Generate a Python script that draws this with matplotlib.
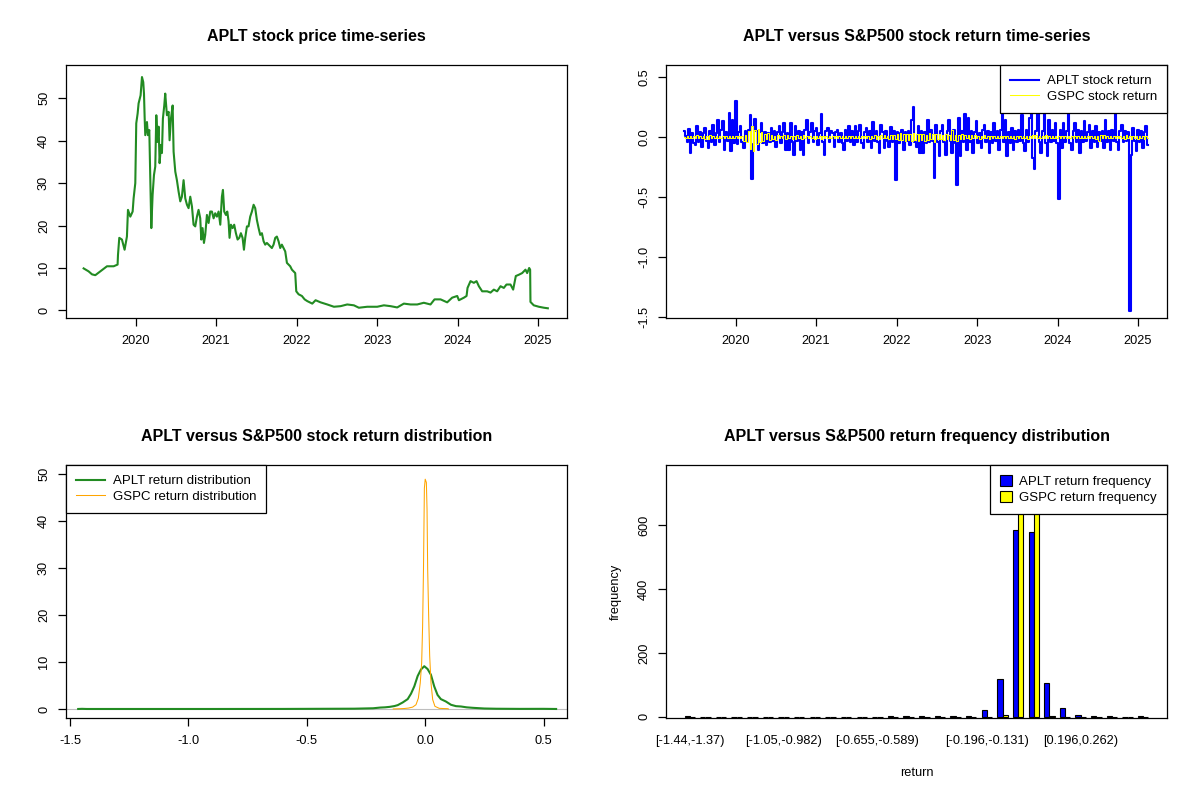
import matplotlib.pyplot as plt
import numpy as np

plt.rcParams['font.family'] = ['Liberation Sans', 'DejaVu Sans']
plt.rcParams['axes.unicode_minus'] = False

# APLT closing price (decimal year, USD)
price_year = [
    2019.354, 2019.416, 2019.458, 2019.499, 2019.561, 2019.644, 2019.727, 2019.776, 2019.781, 2019.797,
    2019.830, 2019.863, 2019.892, 2019.905, 2019.934, 2019.963, 2019.975, 2019.996, 2020.008, 2020.025,
    2020.037, 2020.062, 2020.079, 2020.095, 2020.104, 2020.112, 2020.120, 2020.141, 2020.153, 2020.170,
    2020.186, 2020.195, 2020.211, 2020.228, 2020.244, 2020.257, 2020.273, 2020.286, 2020.298, 2020.315,
    2020.327, 2020.339, 2020.356, 2020.368, 2020.389, 2020.410, 2020.422, 2020.439, 2020.460, 2020.472,
    2020.493, 2020.513, 2020.534, 2020.555, 2020.575, 2020.596, 2020.617, 2020.638, 2020.658, 2020.679,
    2020.700, 2020.720, 2020.741, 2020.762, 2020.782, 2020.803, 2020.816, 2020.832, 2020.849, 2020.865,
    2020.886, 2020.907, 2020.927, 2020.948, 2020.969, 2020.989, 2021.010, 2021.031, 2021.052, 2021.072,
    2021.085, 2021.101, 2021.122, 2021.139, 2021.155, 2021.167, 2021.184, 2021.205, 2021.225, 2021.246,
    2021.267, 2021.288, 2021.308, 2021.329, 2021.346, 2021.362, 2021.383, 2021.403, 2021.424, 2021.445,
    2021.466, 2021.486, 2021.507, 2021.528, 2021.548, 2021.569, 2021.590, 2021.610, 2021.631, 2021.652,
    2021.673, 2021.693, 2021.714, 2021.735, 2021.755, 2021.776, 2021.797, 2021.817, 2021.838, 2021.859,
    2021.880, 2021.900, 2021.921, 2021.942, 2021.962, 2021.983, 2021.996, 2022.025, 2022.066, 2022.100,
    2022.132, 2022.195, 2022.236, 2022.298, 2022.381, 2022.464, 2022.547, 2022.629, 2022.712, 2022.774,
    2022.878, 2023.002, 2023.085, 2023.168, 2023.250, 2023.333, 2023.416, 2023.499, 2023.581, 2023.664,
    2023.714, 2023.789, 2023.871, 2023.933, 2023.996, 2024.017, 2024.079, 2024.112, 2024.124, 2024.161,
    2024.203, 2024.236, 2024.265, 2024.306, 2024.368, 2024.410, 2024.451, 2024.492, 2024.534, 2024.575,
    2024.608, 2024.658, 2024.691, 2024.724, 2024.761, 2024.803, 2024.844, 2024.865, 2024.890, 2024.902,
    2024.906, 2024.947, 2025.010, 2025.073, 2025.122,
]
price_value = [
    9.9, 9.2, 8.5, 8.3, 9.2, 10.4, 10.4, 10.8, 13.1, 17.1,
    16.7, 14.3, 17.4, 23.7, 22.1, 23.3, 26.4, 30.0, 44.1, 46.4,
    48.8, 50.7, 55.0, 53.8, 51.1, 45.6, 41.3, 44.4, 41.3, 42.5,
    27.2, 19.4, 27.2, 31.9, 33.9, 46.0, 39.7, 43.3, 34.7, 39.0,
    37.1, 45.2, 48.3, 51.1, 46.0, 46.8, 40.1, 45.2, 48.3, 37.4,
    32.7, 30.7, 28.0, 25.7, 26.8, 30.7, 26.4, 24.9, 24.1, 26.8,
    24.5, 20.2, 19.8, 22.1, 23.7, 21.7, 16.7, 19.4, 15.9, 17.8,
    22.5, 20.6, 23.3, 23.3, 21.7, 22.9, 22.1, 23.3, 20.2, 26.8,
    28.4, 23.3, 22.5, 23.3, 21.0, 17.1, 20.2, 19.4, 20.2, 18.2,
    16.7, 17.1, 18.2, 17.1, 14.3, 17.1, 19.8, 19.8, 22.1, 23.3,
    24.9, 24.1, 21.3, 19.4, 17.8, 18.2, 16.3, 15.5, 15.9, 15.5,
    15.1, 14.7, 15.5, 17.1, 17.4, 16.3, 14.7, 15.5, 14.7, 13.9,
    11.2, 10.8, 10.4, 9.6, 9.2, 8.8, 4.5, 3.8, 3.4, 2.6,
    2.2, 1.6, 2.4, 1.9, 1.4, 0.86, 1.0, 1.4, 1.2, 0.63,
    0.86, 0.86, 1.2, 1.0, 0.7, 1.6, 1.4, 1.4, 1.8, 1.4,
    2.6, 2.6, 1.9, 3.0, 3.4, 2.4, 3.0, 3.4, 5.3, 6.9,
    6.5, 6.9, 5.7, 4.5, 4.5, 4.2, 4.9, 4.5, 5.7, 5.3,
    6.1, 6.1, 4.9, 8.1, 8.4, 8.8, 9.6, 8.8, 10.0, 9.6,
    2.0, 1.2, 0.86, 0.63, 0.5,
]

# log returns, roughly one value per trading week between these dates
ret_start, ret_end = 2019.36, 2025.12
aplt_ret = [
    0.05, 0.01, -0.04, 0.07, -0.13, 0.03, -0.05, -0.065, 0.09, -0.04,
    0.04, -0.08, 0.03, 0.075, -0.03, -0.09, 0.05, -0.04, 0.10, -0.065,
    0.03, 0.14, -0.04, 0.06, 0.13, -0.105, 0.04, -0.03, 0.20, -0.114,
    0.14, -0.05, 0.30, -0.06, 0.04, 0.09, -0.04, -0.09, 0.05, -0.03,
    0.06, 0.18, -0.35, -0.06, 0.15, 0.05, -0.105, 0.04, 0.12, -0.05,
    0.04, -0.065, 0.03, -0.04, 0.075, -0.03, 0.05, -0.085, 0.04, 0.09,
    -0.05, 0.04, 0.12, -0.105, 0.03, -0.105, 0.12, -0.04, -0.15, 0.09,
    -0.03, 0.05, -0.105, 0.04, -0.15, 0.06, 0.14, -0.05, 0.04, 0.12,
    -0.04, 0.05, 0.075, -0.065, 0.03, 0.19, -0.04, -0.15, 0.05, 0.075,
    -0.04, 0.05, 0.03, -0.08, 0.04, 0.06, -0.04, 0.03, -0.05, -0.105,
    0.06, -0.03, 0.09, -0.04, 0.05, -0.065, 0.09, -0.04, 0.05, 0.10,
    -0.05, -0.09, 0.04, 0.075, -0.04, 0.05, -0.09, 0.125, -0.03, 0.05,
    -0.04, -0.135, 0.10, 0.04, -0.09, 0.05, -0.03, -0.085, 0.08, -0.04,
    0.05, -0.36, 0.04, -0.05, 0.03, 0.06, -0.105, 0.04, -0.03, 0.05,
    -0.065, 0.145, 0.25, -0.04, -0.08, 0.09, -0.135, 0.05, -0.135, 0.04,
    -0.05, 0.14, -0.04, 0.06, -0.03, -0.34, 0.10, -0.04, -0.16, 0.05,
    0.10, -0.04, -0.15, 0.05, 0.14, -0.03, -0.135, 0.06, -0.05, -0.40,
    0.16, -0.16, 0.05, -0.04, 0.19, -0.105, 0.16, -0.04, 0.05, -0.135,
    0.04, 0.13, -0.05, 0.03, -0.09, 0.06, 0.10, -0.04, 0.05, -0.135,
    0.04, -0.05, 0.12, -0.03, 0.05, -0.105, 0.06, 0.24, -0.04, 0.14,
    -0.16, 0.04, -0.05, 0.075, -0.105, 0.05, -0.04, 0.06, -0.03, 0.18,
    -0.05, -0.12, 0.06, -0.04, 0.16, 0.25, -0.175, -0.27, 0.05, 0.19,
    -0.04, -0.135, 0.05, 0.25, -0.05, -0.16, 0.14, -0.04, 0.06, -0.03,
    0.12, -0.05, -0.52, 0.06, -0.09, 0.12, -0.04, 0.05, 0.52, -0.05,
    -0.105, 0.05, 0.12, -0.04, 0.06, -0.135, 0.05, -0.04, 0.13, -0.03,
    0.04, 0.10, -0.09, 0.05, -0.04, 0.09, -0.08, 0.04, -0.03, 0.05,
    -0.09, 0.14, -0.04, 0.05, -0.105, 0.06, -0.03, 0.25, -0.04, -0.105,
    0.05, 0.10, -0.04, 0.05, -0.03, 0.04, -1.45, -0.15, 0.075, -0.03,
    -0.12, 0.06, -0.04, 0.05, -0.09, 0.04, 0.09, -0.065,
]
gspc_ret = [
    0.004, -0.008, 0.012, -0.006, 0.01, -0.012, 0.008, -0.01, 0.014, -0.006,
    0.009, -0.011, 0.006, -0.014, 0.012, -0.018, 0.015, -0.01, 0.008, -0.006,
    0.01, -0.007, 0.009, -0.012, 0.006, -0.008, 0.011, -0.009, 0.007, -0.005,
    0.008, -0.006, 0.009, -0.01, 0.012, -0.008, 0.006, -0.035, 0.02, -0.045,
    0.05, -0.1, 0.09, -0.12, 0.06, -0.06, 0.07, -0.045, 0.04, -0.03,
    0.025, -0.02, 0.03, -0.025, 0.015, -0.018, 0.012, -0.025, 0.02, -0.01,
    0.01, -0.012, 0.015, -0.02, 0.018, -0.01, 0.008, -0.015, 0.012, -0.02,
    0.016, -0.012, 0.01, -0.02, 0.015, -0.008, 0.012, -0.01, 0.009, -0.007,
    0.012, -0.015, 0.01, -0.008, 0.011, -0.014, 0.009, -0.007, 0.01, -0.009,
    0.006, -0.008, 0.007, -0.012, 0.008, -0.006, 0.009, -0.005, 0.007, -0.008,
    0.006, -0.01, 0.008, -0.005, 0.007, -0.009, 0.006, -0.008, 0.01, -0.006,
    0.008, -0.012, 0.01, -0.007, 0.009, -0.015, 0.011, -0.009, 0.013, -0.017,
    0.012, -0.019, 0.014, -0.01, 0.016, -0.012, 0.01, -0.018, 0.02, -0.015,
    0.018, -0.02, 0.025, -0.022, 0.03, -0.028, 0.022, -0.03, 0.026, -0.025,
    0.028, -0.033, 0.03, -0.026, 0.024, -0.035, 0.028, -0.022, 0.025, -0.03,
    0.02, -0.025, 0.03, -0.02, 0.022, -0.04, 0.026, -0.018, 0.024, -0.02,
    0.018, -0.025, 0.028, -0.018, 0.02, -0.024, 0.055, -0.022, 0.018, -0.03,
    0.02, -0.015, 0.022, -0.018, 0.015, -0.012, 0.018, -0.015, 0.014, -0.012,
    0.015, -0.01, 0.012, -0.014, 0.01, -0.012, 0.016, -0.01, 0.012, -0.015,
    0.01, -0.008, 0.012, -0.01, 0.009, -0.012, 0.01, -0.008, 0.011, -0.007,
    0.009, -0.01, 0.012, -0.008, 0.01, -0.014, 0.008, -0.01, 0.012, -0.009,
    0.008, -0.012, 0.01, -0.014, 0.011, -0.009, 0.013, -0.01, 0.015, -0.012,
    0.01, -0.008, 0.012, -0.01, 0.014, -0.007, 0.009, -0.006, 0.008, -0.01,
    0.007, -0.009, 0.006, -0.008, 0.01, -0.007, 0.008, -0.006, 0.009, -0.01,
    0.006, -0.008, 0.011, -0.012, 0.007, -0.009, 0.008, -0.006, 0.01, -0.008,
    0.009, -0.01, 0.007, -0.011, 0.01, -0.016, 0.012, -0.03, 0.02, -0.012,
    0.014, -0.01, 0.009, -0.012, 0.01, -0.008, 0.012, -0.01, 0.011, -0.009,
    0.01, -0.012, 0.009, -0.015, 0.02, -0.01, 0.012, -0.014, 0.011, -0.01,
    0.01, -0.016, 0.012, -0.009, 0.011, -0.014, 0.009, -0.011,
]

# kernel density curves
aplt_dens_x = [-1.466, -1.45, -1.43, -1.2, -0.9, -0.6, -0.3, -0.22, -0.19, -0.17, -0.15, -0.13,
               -0.116, -0.095, -0.074, -0.06, -0.046, -0.032, -0.018, -0.004, 0.01, 0.024,
               0.038, 0.052, 0.066, 0.087, 0.109, 0.13, 0.151, 0.175, 0.2, 0.25, 0.3, 0.4,
               0.5, 0.553]
aplt_dens_y = [0.0, 0.03, 0.0, 0.0, 0.0, 0.01, 0.06, 0.15, 0.3, 0.35, 0.45, 0.62,
               0.82, 1.39, 2.1, 3.25, 4.82, 7.0, 8.4, 9.1, 8.5, 7.3,
               4.82, 3.0, 2.1, 1.6, 0.89, 0.6, 0.53, 0.35, 0.25, 0.1, 0.05, 0.02,
               0.03, 0.0]
gspc_dens_x = [-0.135, -0.11, -0.088, -0.07, -0.053, -0.039, -0.029, -0.021, -0.015, -0.011,
               -0.0073, -0.0035, 0.0, 0.0049, 0.0077, 0.0104, 0.0146, 0.0189, 0.0245, 0.0316,
               0.041, 0.059, 0.075, 0.094, 0.098]
gspc_dens_y = [0.01, 0.05, 0.1, 0.2, 0.4, 0.9, 2.3, 5.5, 9.8, 17.6,
               29.7, 47.0, 48.9, 48.2, 42.5, 29.7, 19.8, 11.3, 5.5, 2.0,
               0.57, 0.14, 0.1, 0.07, 0.01]

# return frequency in 30 equal bins from -1.44 to 0.523
aplt_freq = [1, 0, 0, 0, 0, 0, 0, 0, 0, 0, 0, 0, 0, 1, 2, 1, 2, 1, 2, 20,
             119, 585, 578, 107, 26, 6, 3, 2, 0, 1]
gspc_freq = [0, 0, 0, 0, 0, 0, 0, 0, 0, 0, 0, 0, 0, 0, 0, 0, 0, 0, 0, 0,
             4, 680, 760, 3, 0, 0, 0, 0, 0, 0]
bin_labels = {0: '[-1.44,-1.37)', 6: '[-1.05,-0.982)', 12: '[-0.655,-0.589)',
              19: '[-0.196,-0.131)', 25: '[0.196,0.262)'}


def r_style(ax):
    for s in ax.spines.values():
        s.set_linewidth(0.9)
        s.set_color('black')
    ax.tick_params(direction='out', length=6, width=0.9, labelsize=9.2)
    ax.tick_params(axis='x', pad=6.2)
    ax.tick_params(axis='y', labelrotation=90, pad=5.5)
    plt.setp(ax.get_yticklabels(), va='center')


title_kw = dict(fontsize=11.5, fontweight='bold', pad=17)
leg_kw = dict(frameon=True, fancybox=False, edgecolor='black', framealpha=1,
              borderaxespad=0, fontsize=9.5, handletextpad=0.6, labelspacing=0.25,
              borderpad=0.75)

fig = plt.figure(figsize=(12, 8), dpi=100)
ax1 = fig.add_axes([0.055, 0.6025, 0.4175, 0.31625])
ax2 = fig.add_axes([0.555, 0.6025, 0.4175, 0.31625])
ax3 = fig.add_axes([0.055, 0.1025, 0.4175, 0.31625])
ax4 = fig.add_axes([0.555, 0.1025, 0.4175, 0.31625])

years = [2020, 2021, 2022, 2023, 2024, 2025]

# price
ax1.plot(price_year, price_value, color='#228B22', lw=1.5)
ax1.set_xlim(2019.135, 2025.36)
ax1.set_ylim(-1.79, 57.84)
ax1.set_xticks(years)
ax1.set_yticks([0, 10, 20, 30, 40, 50])
ax1.set_title('APLT stock price time-series', **title_kw)
r_style(ax1)

# returns
t = np.linspace(ret_start, ret_end, len(aplt_ret))
ax2.plot(t, aplt_ret, color='blue', lw=1.5, drawstyle='steps-mid',
         label='APLT stock return')
ax2.plot(t, gspc_ret, color='yellow', lw=0.75, drawstyle='steps-mid',
         label='GSPC stock return')
ax2.set_xlim(2019.135, 2025.36)
ax2.set_ylim(-1.508, 0.6)
ax2.set_xticks(years)
ax2.set_yticks([0.5, 0.0, -0.5, -1.0, -1.5])
ax2.set_yticklabels(['0.5', '0.0', '-0.5', '-1.0', '-1.5'])
leg = ax2.legend(loc='upper right', handlelength=2.2, **leg_kw)
leg.get_frame().set_linewidth(0.9)
ax2.set_title('APLT versus S&P500 stock return time-series', **title_kw)
r_style(ax2)

# density
ax3.axhline(0, color='#BEBEBE', lw=0.8, zorder=1)
ax3.plot(aplt_dens_x, aplt_dens_y, color='#228B22', lw=1.5, label='APLT return distribution')
ax3.plot(gspc_dens_x, gspc_dens_y, color='orange', lw=0.75, label='GSPC return distribution')
ax3.set_xlim(-1.5175, 0.599)
ax3.set_ylim(-1.92, 51.92)
ax3.set_xticks([-1.5, -1.0, -0.5, 0.0, 0.5])
ax3.set_xticklabels(['-1.5', '-1.0', '-0.5', '0.0', '0.5'])
ax3.set_yticks([0, 10, 20, 30, 40, 50])
leg = ax3.legend(loc='upper left', handlelength=2.2, **leg_kw)
leg.get_frame().set_linewidth(0.9)
ax3.set_title('APLT versus S&P500 stock return distribution', **title_kw)
r_style(ax3)

# frequency histogram
g = 3 * np.arange(len(aplt_freq)) + 2
ax4.bar(g - 0.5, aplt_freq, width=1, color='blue', edgecolor='black', lw=0.8,
        label='APLT return frequency')
ax4.bar(g + 0.5, gspc_freq, width=1, color='yellow', edgecolor='black', lw=0.8,
        label='GSPC return frequency')
ax4.set_xlim(-2.56, 93.56)
ax4.set_ylim(-4, 789)
ax4.set_xticks([g[k] for k in bin_labels])
ax4.set_xticklabels(list(bin_labels.values()))
ax4.set_yticks([0, 200, 400, 600])
ax4.set_xlabel('return', fontsize=9.2, labelpad=14)
ax4.set_ylabel('frequency', fontsize=9.2, labelpad=12)
leg = ax4.legend(loc='upper right', handlelength=0.9, handleheight=0.9, **leg_kw)
leg.get_frame().set_linewidth(0.9)
ax4.set_title('APLT versus S&P500 return frequency distribution', **title_kw)
r_style(ax4)
ax4.tick_params(axis='x', length=0, pad=12.5)

fig.savefig('out.png', dpi=100)
